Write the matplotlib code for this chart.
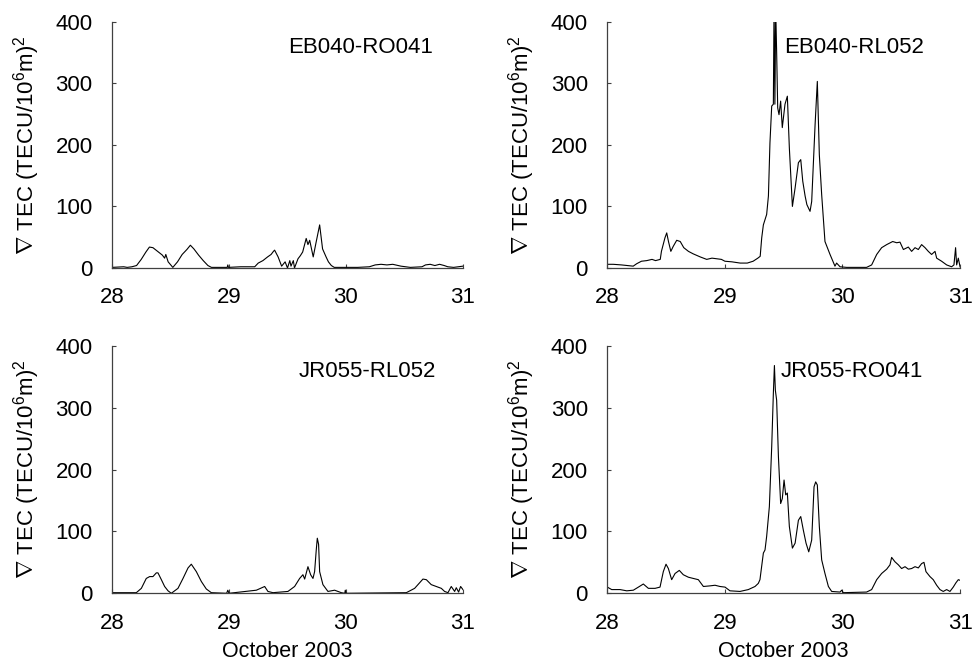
import matplotlib
matplotlib.use('Agg')
import matplotlib.pyplot as plt

plt.rcParams['font.family'] = ['Liberation Sans', 'DejaVu Sans']
plt.rcParams['mathtext.fontset'] = 'custom'
plt.rcParams['mathtext.rm'] = 'Liberation Sans'
plt.rcParams['mathtext.it'] = 'Liberation Sans:italic'

# EB040-RO041 (day of October 2003, TEC gradient)
t_eb_ro = [28.00, 28.10, 28.13, 28.17, 28.21, 28.25, 28.29, 28.32, 28.35, 28.39, 28.43, 28.45,
           28.46, 28.48, 28.52, 28.56, 28.60, 28.64, 28.67, 28.70, 28.74, 28.78, 28.82, 28.85,
           28.95, 28.985, 28.99, 28.995, 29.10, 29.22, 29.25, 29.29, 29.31, 29.33, 29.36, 29.38,
           29.39, 29.42, 29.45, 29.48, 29.50, 29.52, 29.53, 29.55, 29.56, 29.59, 29.61, 29.63,
           29.66, 29.675, 29.69, 29.72, 29.745, 29.775, 29.80, 29.83, 29.85, 29.875, 29.90, 30.00,
           30.10, 30.20, 30.25, 30.30, 30.35, 30.40, 30.47, 30.55, 30.65, 30.68, 30.72, 30.76,
           30.80, 30.84, 30.87, 30.92, 31.00]
v_eb_ro = [1, 2, 1, 2, 4, 14, 26, 34, 33, 27, 21, 16,
           22, 10, 1, 10, 22, 30, 37, 31, 21, 12, 4, 1,
           1, 1, 5, 1, 2, 2, 8, 12, 15, 18, 22, 27,
           29, 18, 3, 10, 0, 12, 3, 12, 0, 15, 20, 26,
           48, 38, 45, 18, 42, 70, 31, 18, 10, 4, 1, 1,
           1, 2, 5, 6, 5, 6, 3, 1, 2, 5, 6, 4,
           6, 4, 2, 1, 3]

# EB040-RL052
t_eb_rl = [28.00, 28.05, 28.12, 28.22, 28.25, 28.29, 28.335, 28.38, 28.41, 28.45, 28.46, 28.49,
           28.505, 28.52, 28.54, 28.56, 28.59, 28.62, 28.65, 28.69, 28.73, 28.79, 28.845, 28.89,
           28.93, 28.97, 29.00, 29.06, 29.13, 29.19, 29.24, 29.28, 29.30, 29.313, 29.327, 29.355,
           29.37, 29.383, 29.398, 29.412, 29.418, 29.425, 29.432, 29.440, 29.449, 29.460, 29.474, 29.488,
           29.511, 29.531, 29.548, 29.574, 29.597, 29.625, 29.645, 29.662, 29.682, 29.697, 29.724, 29.738,
           29.767, 29.786, 29.803, 29.823, 29.851, 29.894, 29.936, 29.95, 29.979, 30.035, 30.10, 30.205,
           30.248, 30.291, 30.333, 30.376, 30.427, 30.461, 30.489, 30.518, 30.560, 30.588, 30.617, 30.645,
           30.673, 30.702, 30.730, 30.758, 30.787, 30.801, 30.843, 30.886, 30.928, 30.948, 30.962, 30.971,
           30.985, 31.00]
v_eb_rl = [6, 6, 5, 3, 7, 11, 12, 14, 12, 14, 27, 49,
           57, 43, 27, 35, 45, 43, 33, 27, 23, 18, 14, 16,
           15, 14, 11, 10, 8, 8, 11, 16, 19, 49, 70, 87,
           117, 203, 263, 266, 430, 266, 420, 350, 260, 249, 271, 228,
           266, 279, 195, 100, 130, 171, 176, 141, 117, 103, 92, 108,
           233, 303, 184, 119, 43, 22, 3, 8, 2, 1, 1, 1,
           5, 22, 33, 38, 43, 41, 42, 30, 34, 27, 33, 30,
           38, 33, 27, 22, 27, 16, 11, 5, 2, 5, 33, 5,
           16, 2]

# JR055-RL052
t_jr_rl = [28.00, 28.10, 28.208, 28.251, 28.293, 28.322, 28.350, 28.379, 28.393, 28.422, 28.450, 28.479,
           28.507, 28.564, 28.607, 28.650, 28.678, 28.721, 28.764, 28.806, 28.849, 28.98, 28.99, 29.00,
           29.234, 29.305, 29.333, 29.376, 29.504, 29.561, 29.604, 29.632, 29.647, 29.675, 29.698, 29.718,
           29.732, 29.746, 29.755, 29.766, 29.775, 29.803, 29.846, 29.903, 29.960, 29.99, 29.994, 30.00,
           30.516, 30.587, 30.658, 30.687, 30.729, 30.772, 30.815, 30.843, 30.872, 30.900, 30.929, 30.943,
           30.963, 30.980, 31.00]
v_jr_rl = [1, 1, 1, 8, 24, 27, 27, 33, 33, 22, 11, 4,
           0, 8, 24, 41, 47, 35, 19, 7, 1, 0, 5, 0,
           5, 11, 3, 1, 3, 11, 24, 30, 23, 43, 30, 24,
           35, 70, 89, 79, 35, 14, 3, 5, 1, 0, 5, 0,
           1, 8, 23, 22, 14, 11, 8, 3, 1, 11, 3, 9,
           2, 11, 6]

# JR055-RO041
t_jr_ro = [28.00, 28.037, 28.108, 28.165, 28.221, 28.264, 28.306, 28.349, 28.406, 28.448, 28.476, 28.499,
           28.519, 28.547, 28.576, 28.612, 28.646, 28.689, 28.731, 28.774, 28.817, 28.873, 28.916, 28.958,
           29.001, 29.043, 29.128, 29.199, 29.256, 29.284, 29.298, 29.327, 29.341, 29.355, 29.378, 29.398,
           29.412, 29.421, 29.429, 29.440, 29.455, 29.474, 29.488, 29.503, 29.517, 29.531, 29.548, 29.574,
           29.597, 29.625, 29.645, 29.667, 29.690, 29.713, 29.738, 29.758, 29.772, 29.786, 29.803, 29.823,
           29.851, 29.880, 29.908, 29.979, 29.993, 30.007, 30.205, 30.248, 30.291, 30.333, 30.376, 30.404,
           30.418, 30.446, 30.475, 30.503, 30.532, 30.560, 30.588, 30.617, 30.645, 30.673, 30.693, 30.710,
           30.744, 30.772, 30.801, 30.829, 30.857, 30.886, 30.914, 30.942, 30.965, 30.985, 31.00]
v_jr_ro = [10, 6, 6, 4, 5, 10, 15, 8, 8, 10, 35, 47,
           40, 22, 32, 37, 30, 26, 24, 22, 11, 12, 13, 11,
           10, 4, 3, 6, 11, 16, 22, 65, 70, 92, 140, 237,
           323, 368, 328, 312, 221, 145, 153, 183, 159, 162, 108, 73,
           81, 118, 124, 102, 81, 67, 86, 172, 180, 175, 108, 54,
           32, 11, 3, 2, 5, 1, 2, 6, 22, 32, 39, 46,
           58, 51, 46, 40, 43, 39, 40, 43, 41, 48, 50, 35,
           27, 22, 13, 6, 3, 6, 3, 10, 17, 22, 21]

panels = [
    (t_eb_ro, v_eb_ro, 'EB040-RO041', [0.1151, 0.5982, 0.3607, 0.3693], 0.501),
    (t_eb_rl, v_eb_rl, 'EB040-RL052', [0.6242, 0.5982, 0.3625, 0.3693], 0.502),
    (t_jr_rl, v_jr_rl, 'JR055-RL052', [0.1151, 0.1105, 0.3607, 0.3712], 0.531),
    (t_jr_ro, v_jr_ro, 'JR055-RO041', [0.6242, 0.1105, 0.3625, 0.3712], 0.490),
]

fig = plt.figure(figsize=(9.73, 6.67), dpi=100)

for i, (t, v, name, pos, lx) in enumerate(panels):
    ax = fig.add_axes(pos)
    ax.plot(t, v, color='black', linewidth=0.8)
    ax.set_xlim(28, 31)
    ax.set_ylim(0, 400)
    ax.set_xticks([28, 29, 30, 31])
    ax.set_yticks([0, 100, 200, 300, 400])
    ax.spines['top'].set_visible(False)
    ax.spines['right'].set_visible(False)
    for s in ['left', 'bottom']:
        ax.spines[s].set_color('#404040')
        ax.spines[s].set_linewidth(0.9)
    ax.tick_params(direction='in', length=3, width=0.8, color='#404040', labelsize=16)
    ax.tick_params(axis='x', pad=14)
    ax.tick_params(axis='y', pad=14)
    ax.set_ylabel(r'$\nabla$ TEC (TECU/10$^6$m)$^2$', fontsize=16)
    ax.yaxis.set_label_coords(-0.20, 0.5)
    ax.text(lx, 0.895, name, transform=ax.transAxes, fontsize=16,
            ha='left', va='center')
    if i >= 2:
        ax.set_xlabel('October 2003', fontsize=15.5, labelpad=5)

fig.savefig('out.png', dpi=100)
